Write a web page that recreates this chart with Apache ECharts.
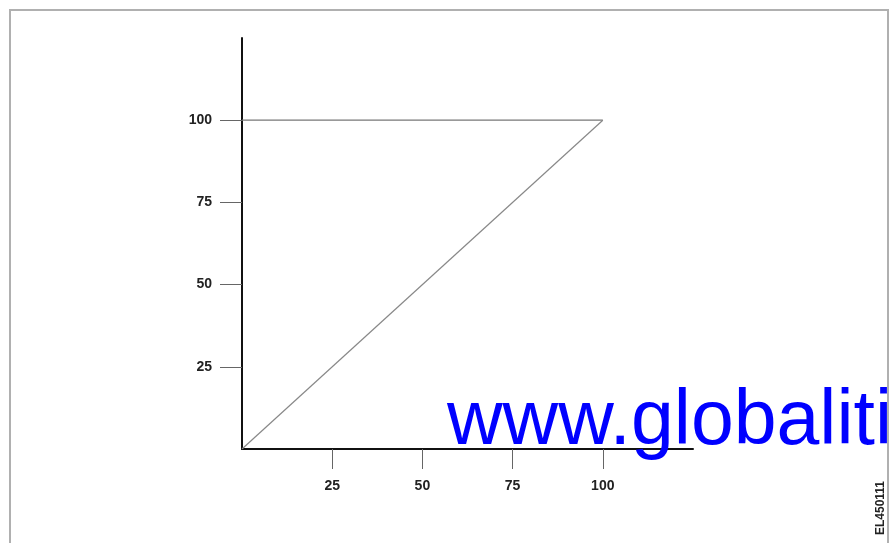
<!DOCTYPE html>
<html>
<head>
<meta charset="utf-8">
<script src="https://cdn.jsdelivr.net/npm/echarts@6/dist/echarts.min.js"></script>
<style>
  html, body { margin: 0; padding: 0; background: #fff; }
  #chart { width: 892px; height: 543px; }
</style>
</head>
<body>
<div id="chart"></div>
<script>
// axis ticks shown on both axes
const tickValues = [25, 50, 75, 100]
// diagonal line: output follows input from 0 to 100
const diagonalX = [0, 100]
const diagonalY = [0, 100]
// horizontal reference line at 100
const levelX = [0, 100]
const levelY = [100, 100]

const watermark = 'www.globaliti'
const figureCode = 'EL450111'

const toPairs = (xs, ys) => xs.map((x, i) => [x, ys[i]])

const chart = echarts.init(document.getElementById('chart'))

const labelFont = {
  color: '#222',
  fontSize: 14,
  fontWeight: 'bold',
  fontFamily: 'Liberation Sans, Arial, sans-serif'
}

chart.setOption({
  animation: false,
  grid: { left: 242, right: 199, top: 38, bottom: 94 },
  xAxis: {
    type: 'value',
    min: 0,
    max: 125,
    interval: 25,
    axisLine: { lineStyle: { color: '#111', width: 2 } },
    axisTick: { customValues: tickValues, length: 20, lineStyle: { color: '#666', width: 1 } },
    axisLabel: Object.assign({ customValues: tickValues, margin: 30 }, labelFont),
    splitLine: { show: false }
  },
  yAxis: {
    type: 'value',
    min: 0,
    max: 125,
    interval: 25,
    axisLine: { show: true, lineStyle: { color: '#111', width: 2 } },
    axisTick: { show: true, customValues: tickValues, length: 22, lineStyle: { color: '#666', width: 1 } },
    axisLabel: Object.assign({ customValues: tickValues, margin: 30 }, labelFont),
    splitLine: { show: false }
  },
  series: [
    {
      type: 'line',
      data: toPairs(levelX, levelY),
      symbol: 'none',
      lineStyle: { color: '#777', width: 1.2 }
    },
    {
      type: 'line',
      data: toPairs(diagonalX, diagonalY),
      symbol: 'none',
      lineStyle: { color: '#888', width: 1.2 }
    }
  ],
  graphic: [
    {
      type: 'rect',
      silent: true,
      shape: { x: 10, y: 10, width: 878, height: 560 },
      style: { fill: 'none', stroke: '#b0b0b0', lineWidth: 2 }
    },
    {
      type: 'text',
      x: 881,
      y: 508,
      rotation: Math.PI / 2,
      style: {
        text: figureCode,
        fill: '#222',
        font: 'bold 12px Liberation Sans, Arial, sans-serif',
        align: 'center',
        verticalAlign: 'middle'
      }
    },
    {
      type: 'text',
      x: 447,
      y: 461,
      z: 100,
      style: {
        text: watermark,
        fill: '#0000ff',
        font: '77px Liberation Sans, Arial, sans-serif',
        align: 'left',
        verticalAlign: 'bottom'
      }
    }
  ]
})
</script>
</body>
</html>
